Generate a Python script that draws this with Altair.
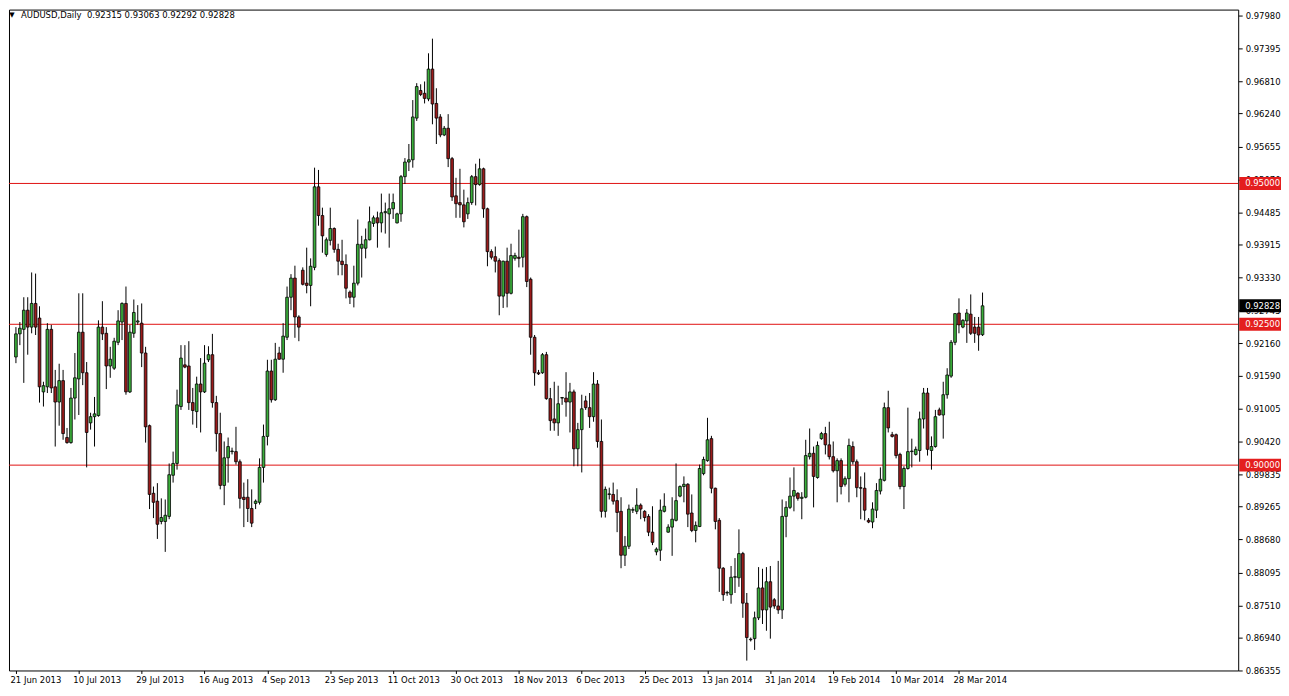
import altair as alt
import pandas as pd

symbol = "AUDUSD"
timeframe = "Daily"

opens = [0.9192,0.9233,0.9241,0.9275,0.9245,0.9287,0.9261,0.9130,0.9139,0.9241,
0.9139,0.9112,0.9150,0.9049,0.9040,0.9119,0.9153,0.9236,0.9164,0.9075,
0.9086,0.9088,0.9245,0.9234,0.9176,0.9172,0.9218,0.9254,0.9287,0.9130,
0.9234,0.9254,0.9252,0.9199,0.9070,0.8950,0.8936,0.8900,0.8900,0.8909,
0.8982,0.9003,0.9104,0.9178,0.9176,0.9111,0.9095,0.9144,0.9130,0.9187,
0.9196,0.9111,0.9056,0.8964,0.9013,0.9024,0.9024,0.9006,0.8943,0.8943,
0.8923,0.8932,0.8934,0.8996,0.9051,0.9167,0.9116,0.9199,0.9188,0.9227,
0.9298,0.9332,0.9263,0.9346,0.9323,0.9319,0.9351,0.9494,0.9443,0.9374,
0.9399,0.9420,0.9383,0.9362,0.9356,0.9307,0.9298,0.9323,0.9385,0.9385,
0.9400,0.9429,0.9439,0.9430,0.9448,0.9446,0.9455,0.9430,0.9446,0.9512,
0.9538,0.9542,0.9616,0.9665,0.9660,0.9650,0.9703,0.9642,0.9618,0.9586,
0.9598,0.9544,0.9478,0.9466,0.9462,0.9446,0.9466,0.9512,0.9498,0.9526,
0.9455,0.9379,0.9370,0.9363,0.9300,0.9362,0.9305,0.9367,0.9369,0.9369,
0.9441,0.9330,0.9227,0.9164,0.9164,0.9196,0.9118,0.9082,0.9075,0.9119,
0.9119,0.9112,0.9130,0.9029,0.9063,0.9114,0.9102,0.9086,0.9144,0.9042,
0.8918,0.8948,0.8948,0.8937,0.8918,0.8840,0.8856,0.8920,0.8918,0.8929,
0.8918,0.8909,0.8881,0.8846,0.8849,0.8918,0.8881,0.8890,0.8902,0.8945,
0.8962,0.8966,0.8915,0.8884,0.8891,0.8985,0.9008,0.9047,0.8959,0.8902,
0.8817,0.8773,0.8770,0.8801,0.8800,0.8843,0.8755,0.8690,0.8692,0.8729,
0.8782,0.8743,0.8793,0.8761,0.8750,0.8743,0.8909,0.8925,0.8945,0.8950,
0.8941,0.8943,0.9015,0.9021,0.8978,0.9047,0.9056,0.9036,0.9015,0.8990,
0.9008,0.8966,0.8976,0.9033,0.9006,0.8960,0.8959,0.8902,0.8899,0.8920,
0.8954,0.8973,0.9102,0.9054,0.9054,0.9019,0.8962,0.8994,0.9024,0.9019,
0.9026,0.9082,0.9128,0.9026,0.9033,0.9098,0.9089,0.9125,0.9158,0.9218,
0.9270,0.9245,0.9256,0.9268,0.9245,0.9245,0.92315]

highs = [0.9245,0.9254,0.9298,0.9298,0.9342,0.9340,0.9282,0.9148,0.9252,0.9249,
0.9169,0.9180,0.9169,0.9066,0.9137,0.9199,0.9305,0.9305,0.9183,0.9093,
0.9121,0.9257,0.9291,0.9245,0.9210,0.9226,0.9275,0.9289,0.9317,0.9249,
0.9294,0.9284,0.9287,0.9210,0.9072,0.8962,0.8968,0.8941,0.8939,0.9003,
0.9024,0.9134,0.9213,0.9213,0.9220,0.9137,0.9157,0.9190,0.9213,0.9211,
0.9233,0.9123,0.9093,0.9042,0.9049,0.9031,0.9068,0.9010,0.8969,0.8975,
0.8957,0.8939,0.9012,0.9072,0.9187,0.9187,0.9217,0.9210,0.9252,0.9317,
0.9339,0.9354,0.9266,0.9351,0.9386,0.9367,0.9528,0.9524,0.9457,0.9404,
0.9457,0.9422,0.9393,0.9400,0.9374,0.9310,0.9354,0.9436,0.9407,0.9420,
0.9459,0.9443,0.9450,0.9482,0.9466,0.9482,0.9482,0.9448,0.9515,0.9545,
0.9570,0.9648,0.9678,0.9676,0.9681,0.9731,0.9757,0.9669,0.9623,0.9602,
0.9623,0.9547,0.9510,0.9526,0.9489,0.9475,0.9515,0.9535,0.9544,0.9528,
0.9457,0.9383,0.9388,0.9367,0.9363,0.9386,0.9393,0.9377,0.9418,0.9446,
0.9443,0.9333,0.9231,0.9169,0.9199,0.9201,0.9137,0.9148,0.9141,0.9121,
0.9165,0.9146,0.9134,0.9075,0.9125,0.9123,0.9128,0.9165,0.9151,0.9081,
0.8962,0.8960,0.8969,0.8957,0.8943,0.8874,0.8930,0.8925,0.8959,0.8932,
0.8920,0.8913,0.8927,0.8854,0.8939,0.8950,0.8895,0.8943,0.9003,0.8964,
0.8980,0.8968,0.8948,0.8900,0.9001,0.9015,0.9084,0.9052,0.8960,0.8906,
0.8819,0.8777,0.8821,0.8835,0.8886,0.8846,0.8773,0.8694,0.8740,0.8819,
0.8816,0.8819,0.8821,0.8764,0.8830,0.8939,0.8936,0.8978,0.8996,0.8952,
0.8952,0.9045,0.9065,0.9033,0.9042,0.9059,0.9068,0.9077,0.9042,0.9012,
0.9012,0.8980,0.9047,0.9042,0.9010,0.8980,0.8987,0.8906,0.8934,0.8968,
0.8996,0.9111,0.9132,0.9059,0.9056,0.9022,0.8998,0.9102,0.9047,0.9033,
0.9095,0.9137,0.9137,0.9051,0.9098,0.9102,0.9148,0.9172,0.9222,0.9270,
0.9296,0.9259,0.9277,0.9303,0.9263,0.9263,0.93063]

lows = [0.9181,0.9213,0.9146,0.9196,0.9234,0.9231,0.9111,0.9104,0.9128,0.9128,
0.9033,0.9070,0.9045,0.9038,0.9038,0.9081,0.9089,0.9142,0.8996,0.9063,
0.9033,0.9086,0.9222,0.9135,0.9155,0.9169,0.9213,0.9222,0.9125,0.9128,
0.9226,0.9249,0.9174,0.9040,0.8922,0.8906,0.8869,0.8895,0.8846,0.8904,
0.8969,0.8992,0.9098,0.9172,0.9098,0.9072,0.9066,0.9058,0.9128,0.9183,
0.9102,0.9024,0.8957,0.8929,0.8969,0.9019,0.9001,0.8923,0.8890,0.8899,
0.8890,0.8922,0.8930,0.8969,0.9035,0.9111,0.9114,0.9187,0.9164,0.9222,
0.9275,0.9226,0.9220,0.9319,0.9305,0.9282,0.9346,0.9425,0.9377,0.9370,
0.9390,0.9377,0.9337,0.9337,0.9296,0.9286,0.9280,0.9319,0.9333,0.9367,
0.9399,0.9423,0.9386,0.9413,0.9411,0.9386,0.9437,0.9429,0.9432,0.9499,
0.9522,0.9528,0.9611,0.9655,0.9642,0.9646,0.9605,0.9570,0.9582,0.9584,
0.9529,0.9469,0.9439,0.9439,0.9422,0.9437,0.9462,0.9461,0.9496,0.9439,
0.9353,0.9365,0.9342,0.9266,0.9279,0.9280,0.9303,0.9363,0.9351,0.9351,
0.9316,0.9196,0.9141,0.9160,0.9162,0.9116,0.9061,0.9061,0.9052,0.9107,
0.9086,0.9058,0.8998,0.8998,0.8987,0.9098,0.9066,0.9077,0.9031,0.8907,
0.8907,0.8939,0.8930,0.8881,0.8817,0.8821,0.8851,0.8915,0.8913,0.8904,
0.8900,0.8874,0.8858,0.8840,0.8830,0.8916,0.8880,0.8839,0.8900,0.8943,
0.8934,0.8890,0.8881,0.8863,0.8890,0.8982,0.9006,0.8950,0.8886,0.8775,
0.8759,0.8768,0.8754,0.8773,0.8784,0.8729,0.8653,0.8687,0.8672,0.8725,
0.8718,0.8706,0.8692,0.8745,0.8736,0.8727,0.8872,0.8922,0.8918,0.8937,
0.8904,0.8941,0.9010,0.8925,0.8976,0.9045,0.9019,0.9010,0.8987,0.8934,
0.8948,0.8962,0.8934,0.9001,0.8943,0.8904,0.8902,0.8897,0.8888,0.8906,
0.8948,0.8971,0.9058,0.9049,0.9012,0.8957,0.8922,0.8992,0.8996,0.9017,
0.9006,0.9065,0.9017,0.8992,0.9031,0.9088,0.9047,0.9118,0.9155,0.9213,
0.9234,0.9243,0.9217,0.9231,0.9217,0.9203,0.92292]

closes = [0.9233,0.9243,0.9275,0.9245,0.9287,0.9245,0.9139,0.9141,0.9241,0.9137,
0.9112,0.9150,0.9056,0.9040,0.9119,0.9155,0.9236,0.9164,0.9058,0.9086,
0.9091,0.9245,0.9233,0.9176,0.9188,0.9220,0.9256,0.9287,0.9130,0.9236,
0.9271,0.9256,0.9199,0.9068,0.8948,0.8934,0.8895,0.8907,0.8911,0.8983,
0.9003,0.9107,0.9190,0.9174,0.9111,0.9097,0.9144,0.9130,0.9181,0.9196,
0.9111,0.9056,0.8964,0.9013,0.9033,0.9025,0.9006,0.8941,0.8939,0.8923,
0.8897,0.8936,0.8996,0.9051,0.9167,0.9116,0.9188,0.9188,0.9229,0.9298,
0.9332,0.9263,0.9245,0.9321,0.9319,0.9353,0.9494,0.9443,0.9407,0.9400,
0.9420,0.9383,0.9362,0.9356,0.9314,0.9298,0.9323,0.9392,0.9392,0.9400,
0.9432,0.9439,0.9430,0.9448,0.9450,0.9455,0.9466,0.9446,0.9512,0.9538,
0.9542,0.9618,0.9672,0.9658,0.9651,0.9703,0.9641,0.9616,0.9586,0.9598,
0.9544,0.9476,0.9464,0.9462,0.9432,0.9466,0.9512,0.9498,0.9526,0.9455,
0.9379,0.9369,0.9362,0.9300,0.9362,0.9305,0.9372,0.9372,0.9367,0.9441,
0.9326,0.9227,0.9164,0.9162,0.9196,0.9118,0.9079,0.9075,0.9109,0.9120,
0.9112,0.9130,0.9029,0.9063,0.9100,0.9102,0.9086,0.9144,0.9042,0.8918,
0.8957,0.8949,0.8936,0.8916,0.8840,0.8856,0.8922,0.8921,0.8929,0.8922,
0.8907,0.8881,0.8863,0.8851,0.8920,0.8927,0.8890,0.8904,0.8937,0.8962,
0.8966,0.8913,0.8884,0.8893,0.8994,0.9010,0.9045,0.8959,0.8900,0.8817,
0.8770,0.8774,0.8801,0.8802,0.8843,0.8755,0.8694,0.8691,0.8729,0.8782,
0.8743,0.8793,0.8748,0.8750,0.8743,0.8909,0.8925,0.8945,0.8955,0.8941,
0.8943,0.9017,0.9021,0.8980,0.9035,0.9056,0.9036,0.9015,0.8990,0.9008,
0.8962,0.8976,0.9035,0.9006,0.8960,0.8959,0.8920,0.8899,0.8922,0.8955,
0.8975,0.9102,0.9066,0.9051,0.9017,0.8962,0.8994,0.9024,0.9025,0.9028,
0.9082,0.9128,0.9028,0.9033,0.9086,0.9089,0.9125,0.9160,0.9218,0.9269,
0.9249,0.9257,0.9270,0.9234,0.9234,0.9231,0.92828]

date_labels = ["21 Jun 2013", "10 Jul 2013", "29 Jul 2013", "16 Aug 2013",
               "4 Sep 2013", "23 Sep 2013", "11 Oct 2013", "30 Oct 2013",
               "18 Nov 2013", "6 Dec 2013", "25 Dec 2013", "13 Jan 2014",
               "31 Jan 2014", "19 Feb 2014", "10 Mar 2014", "28 Mar 2014"]
label_step = 16

price_ticks = [0.97980, 0.97395, 0.96810, 0.96240, 0.95655, 0.95070, 0.94485,
               0.93915, 0.93330, 0.92745, 0.92160, 0.91590, 0.91005, 0.90420,
               0.89835, 0.89265, 0.88680, 0.88095, 0.87510, 0.86940, 0.86355]
levels = [0.95000, 0.92500, 0.90000]

GREEN = "#3BAF3B"
DARKRED = "#9B1B1B"
LINERED = "#E01010"
BOXRED = "#E41E1E"
FONT = "DejaVu Sans"

W, H = 1235, 664
n = len(opens)
df = pd.DataFrame({"i": list(range(n)), "open": opens, "high": highs,
                   "low": lows, "close": closes})
df["dir"] = ["up" if c >= o else "down" for o, c in zip(opens, closes)]

xscale = alt.Scale(domain=[-0.5, 309.8], nice=False, zero=False)
yscale = alt.Scale(domain=[0.86355, 0.98086], nice=False, zero=False)

lbl_array = "[" + ",".join("'" + d + "'" for d in date_labels) + "]"
xaxis = alt.Axis(values=[k * label_step for k in range(len(date_labels))],
                 labelExpr=lbl_array + "[round(datum.value / %d)]" % label_step,
                 title=None, grid=False, domain=False, tickColor="black",
                 tickSize=3, labelAlign="left", labelPadding=2, labelOffset=-6,
                 labelFont=FONT, labelFontSize=8.5, labelColor="black",
                 labelOverlap=False, labelFlush=False, labelBound=False)
yaxis = alt.Axis(values=price_ticks, labelExpr="format(datum.value, '.5f')",
                 orient="right", title=None, grid=False, domain=False,
                 tickColor="black", tickSize=4, labelPadding=3,
                 labelFont=FONT, labelFontSize=8.5, labelColor="black",
                 labelOverlap=False, labelFlush=False, labelBound=False)

X = alt.X("i:Q", scale=xscale, axis=xaxis)

lv_df = pd.DataFrame({"level": levels,
                      "txt": ["%.5f" % v for v in levels]})
last_df = pd.DataFrame({"level": [closes[-1]], "txt": ["%.5f" % closes[-1]]})

lines = alt.Chart(lv_df).mark_rule(color=LINERED, strokeWidth=1).encode(
    y=alt.Y("level:Q", scale=yscale, axis=yaxis))

wicks = alt.Chart(df).mark_rule(color="black", strokeWidth=1).encode(
    x=X, y=alt.Y("low:Q", scale=yscale, axis=yaxis), y2="high:Q")

bodies_up = alt.Chart(df).transform_filter(alt.datum.dir == "up").mark_bar(
    size=2.7, fill=GREEN, stroke="black", strokeWidth=0.8).encode(
    x=X, y=alt.Y("open:Q", scale=yscale, axis=yaxis), y2="close:Q")

bodies_dn = alt.Chart(df).transform_filter(alt.datum.dir == "down").mark_bar(
    size=2.7, fill=DARKRED, stroke="black", strokeWidth=0.8).encode(
    x=X, y=alt.Y("open:Q", scale=yscale, axis=yaxis), y2="close:Q")

box_path = "M-1,-0.31 L1,-0.31 L1,0.31 L-1,0.31 Z"
boxes = alt.Chart(lv_df).mark_point(shape=box_path, filled=True, size=1764,
                                     opacity=1, fill=BOXRED, strokeWidth=0).encode(
    x=alt.value(W + 22), y=alt.Y("level:Q", scale=yscale, axis=yaxis))
box_txt = alt.Chart(lv_df).mark_text(align="left", baseline="middle",
                                     font=FONT, fontSize=8.5, color="white").encode(
    x=alt.value(W + 7), y=alt.Y("level:Q", scale=yscale, axis=yaxis), text="txt:N")

last_box = alt.Chart(last_df).mark_point(shape=box_path, filled=True, size=1764,
                                          opacity=1, fill="black", strokeWidth=0).encode(
    x=alt.value(W + 22), y=alt.Y("level:Q", scale=yscale, axis=yaxis))
last_txt = alt.Chart(last_df).mark_text(align="left", baseline="middle",
                                        font=FONT, fontSize=8.5, color="white").encode(
    x=alt.value(W + 7), y=alt.Y("level:Q", scale=yscale, axis=yaxis), text="txt:N")

header_text = "%s,%s\u00a0\u00a0%.5f %.5f %.5f %.5f" % (
    symbol, timeframe, opens[-1], highs[-1], lows[-1], closes[-1])
hdr_df = pd.DataFrame({"t": [header_text], "tri": ["\u25bc"]})
header = alt.Chart(hdr_df).mark_text(align="left", baseline="middle", font=FONT,
                                     fontSize=8.5, color="black").encode(
    x=alt.value(12), y=alt.value(5), text="t:N")
tri = alt.Chart(hdr_df).mark_text(align="center", baseline="middle", font=FONT,
                                  fontSize=7, color="black").encode(
    x=alt.value(3), y=alt.value(5), text="tri:N")

chart = alt.layer(lines, wicks, bodies_up, bodies_dn, boxes, box_txt,
                  last_box, last_txt, header, tri).properties(
    width=W, height=H, padding={"left": 0, "top": 0, "right": 0, "bottom": 0},
    background="white"
).configure_view(stroke="black", strokeWidth=1)

chart.save("out.html", embed_options={"renderer": "svg", "actions": False})
